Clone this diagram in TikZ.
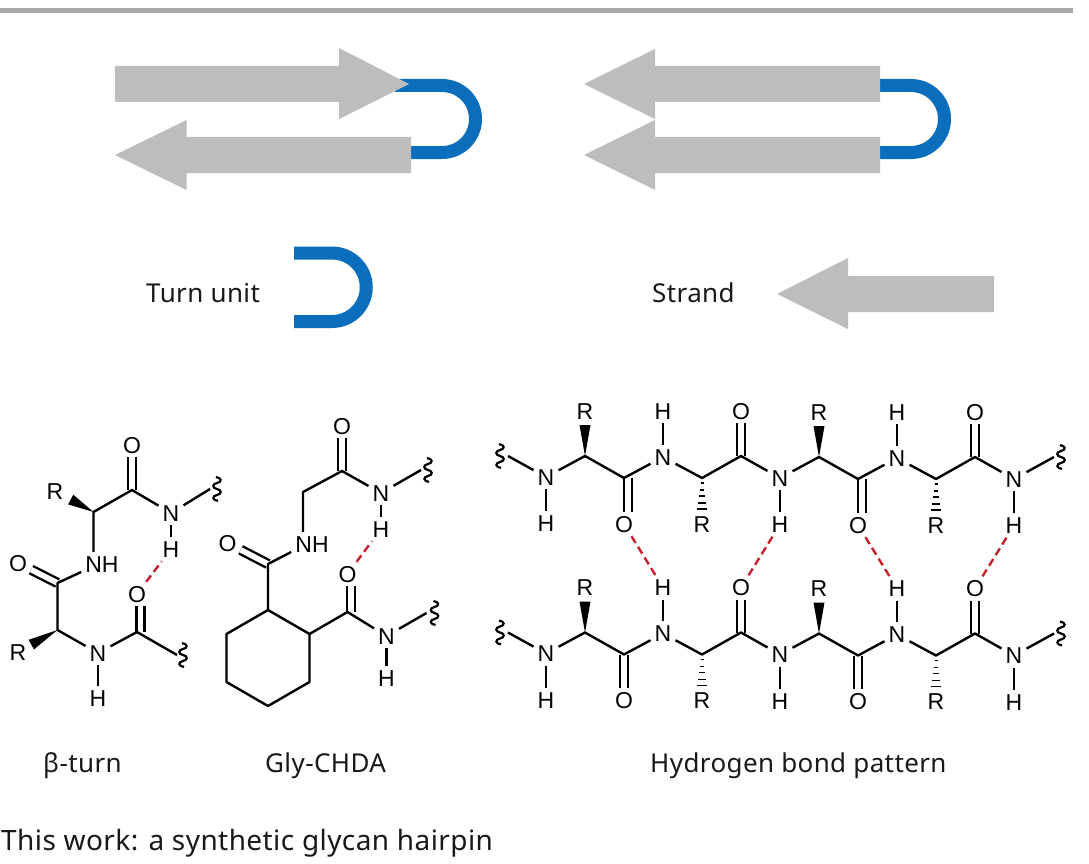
\documentclass[tikz,border=0pt]{standalone}
\usepackage{fontspec}
\setmainfont[LetterSpace=1.5]{Noto Sans}
\newfontfamily\atomfont{Liberation Sans}
\usetikzlibrary{positioning,calc}

\definecolor{strandgray}{HTML}{BDBDBD}
\definecolor{rulegray}{HTML}{A9A9A9}
\definecolor{turnblue}{HTML}{0A6EBD}
\definecolor{hbondred}{HTML}{C8202F}

\tikzset{
  atom/.style={anchor=center, font=\atomfont\fontsize{23}{23}\selectfont, inner sep=4pt, text height=16pt, text depth=0pt},
  bond/.style={draw, line width=2.4pt, line join=round},
  dbl/.style={draw, line width=2.4pt, double, double distance=5.6pt},
  hbond/.style={draw=hbondred, line width=2.4pt, dash pattern=on 8pt off 4.5pt},
  strand/.style={fill=strandgray},
  turn/.style={draw=turnblue, line width=13pt},
  caption/.style={font=\fontsize{26}{26}\selectfont, inner sep=0pt, anchor=base west, text=black!90},
  squig/.pic={\draw[line width=2.2pt] (-1,-12) .. controls (5,-11) and (5,-7) .. (0,-6) .. controls (-5,-5) and (-5,-1) .. (0,0) .. controls (5,1) and (5,5) .. (0,6) .. controls (-5,7) and (-5,11) .. (1,12);},
}

% filled wedge: tip, target, length
\newcommand{\wedgebond}[3]{
  \coordinate (wedgeend) at ($(#1)!#3!(#2)$);
  \fill (#1) -- ($(wedgeend)!5.5pt!90:(#1)$) -- ($(wedgeend)!5.5pt!-90:(#1)$) -- cycle;
}
% hashed bond pointing down
\newcommand{\hashbond}[1]{
  \foreach \d/\w in {5/1.5,12/2.2,18/3,25/4,31/5}{
    \draw[line width=1.8pt] ([xshift=-\w pt,yshift=-\d pt]#1) -- ([xshift=\w pt,yshift=-\d pt]#1);
  }
}

\begin{document}
\begin{tikzpicture}[x=1pt, y=-1pt, on grid]
  \useasboundingbox (0,0) rectangle (1089,864);
  \fill[rulegray] (0,8) rectangle (1073,12.6);

  % hairpins, turns below the strands
  \draw[turn] (395,85.5) -- (442,85.5) arc[start angle=-90, end angle=90, radius=33.5] -- (405,152.5);
  \draw[turn] (875,85.5) -- (911,85.5) arc[start angle=-90, end angle=90, radius=33.5] -- (875,152.5);
  \fill[strand] (115,66) -- (339,66) -- (339,48) -- (409,84) -- (339,119) -- (339,102) -- (115,102) -- cycle;
  \fill[strand] (115,155) -- (186.5,120) -- (186.5,137) -- (411,137) -- (411,173) -- (186.5,173) -- (186.5,190) -- cycle;
  \fill[strand] (584,84) -- (655,49) -- (655,66) -- (880,66) -- (880,102) -- (655,102) -- (655,119) -- cycle;
  \fill[strand] (584,155) -- (655,120) -- (655,137) -- (880,137) -- (880,173) -- (655,173) -- (655,190) -- cycle;

  % legend
  \node[caption] (turnlabel) at (146,302) {Turn unit};
  \draw[turn] (294,253) -- (332,253) arc[start angle=-90, end angle=90, radius=34.25] -- (294,321.5);
  \node[caption] (strandlabel) at (652,302) {Strand};
  \fill[strand] (777,294) -- (848,258) -- (848,276) -- (994,276) -- (994,312) -- (848,312) -- (848,329) -- cycle;

  % beta-turn
  \coordinate (ba1) at (93.5,512);
  \node[above left=21pt and 38.5pt of ba1, atom] (br1) {R};
  \coordinate[above right=22pt and 38.5pt of ba1] (bc1);
  \node[above=45pt of bc1, atom] (bo1) {O};
  \node[below right=23pt and 39pt of bc1, atom] (bn1) {N};
  \node[below=36pt of bn1, atom] (bh1) {H};
  \coordinate[above right=24pt and 39pt of bn1] (bq1);
  \node[below right=52pt and 8.5pt of ba1, atom] (bnh) {NH};
  \coordinate[below left=71pt and 36pt of ba1] (bc2);
  \node[above left=20pt and 39.5pt of bc2, atom] (bo2) {O};
  \coordinate[below=47pt of bc2] (ba2);
  \node[below left=22pt and 39.5pt of ba2, atom] (br2) {R};
  \node[below right=23pt and 40.5pt of ba2, atom] (bn2) {N};
  \node[below=45pt of bn2, atom] (bh2) {H};
  \coordinate[above right=21pt and 39pt of bn2] (bc3);
  \node[above=38pt of bc3, atom] (bo3) {O};
  \coordinate[below right=23pt and 40pt of bc3] (bq2);

  \path[dbl] (bc1) -- (bo1);
  \path[dbl] (bc2) -- (bo2);
  \path[dbl, transform canvas={xshift=3.5pt}] (bc3) -- (bo3);
  \path[bond] (ba1 |- bnh.north) -- (ba1) -- (bc1) -- (bn1) -- (bq1);
  \path[bond] (bn1) -- (bh1);
  \path[bond] ([yshift=-8pt]bnh.west) -- (bc2) -- (ba2) -- (bn2) -- (bc3) -- (bq2);
  \path[bond] (bn2) -- (bh2);
  \wedgebond{ba1}{br1}{26pt}
  \wedgebond{ba2}{br2}{30pt}
  \pic at ([xshift=7pt]bq1) {squig};
  \pic at ([xshift=6pt]bq2) {squig};
  \path[hbond] (bo3) -- (bh1);

  % Gly-CHDA
  \coordinate (ga1) at (303,492);
  \coordinate[above right=21pt and 39pt of ga1] (gc1);
  \node[above=45pt of gc1, atom] (go1) {O};
  \node[below right=22pt and 39pt of gc1, atom] (gn1) {N};
  \node[below=36pt of gn1, atom] (gh1) {H};
  \coordinate[above right=23pt and 40pt of gn1] (gq1);
  \node[below right=52pt and 9pt of ga1, atom] (gnh) {NH};
  \coordinate[below left=72pt and 35pt of ga1] (gc2);
  \node[above left=21pt and 40.5pt of gc2, atom] (go2) {O};
  \coordinate[below=46pt of gc2] (gr1);
  \coordinate[below right=24pt and 41.5pt of gr1] (gr2);
  \coordinate[below=48pt of gr2] (gr3);
  \coordinate[below left=24pt and 41.5pt of gr3] (gr4);
  \coordinate[above left=24pt and 41.5pt of gr4] (gr5);
  \coordinate[above=48pt of gr5] (gr6);
  \coordinate[above right=22pt and 38pt of gr2] (gc3);
  \node[above=38pt of gc3, atom] (go3) {O};
  \node[below right=24pt and 39pt of gc3, atom] (gn2) {N};
  \node[below=42pt of gn2, atom] (gh2) {H};
  \coordinate[above right=23pt and 40pt of gn2] (gq2);

  \path[dbl] (gc1) -- (go1);
  \path[dbl] (gc2) -- (go2);
  \path[dbl, transform canvas={xshift=3.5pt}] (gc3) -- (go3);
  \path[bond] (ga1 |- gnh.north) -- (ga1) -- (gc1) -- (gn1) -- (gq1);
  \path[bond] (gn1) -- (gh1);
  \path[bond] ([yshift=-8pt]gnh.west) -- (gc2) -- (gr1);
  \path[bond] (gr1) -- (gr2) -- (gr3) -- (gr4) -- (gr5) -- (gr6) -- cycle;
  \path[bond] (gr2) -- (gc3) -- (gn2) -- (gq2);
  \path[bond] (gn2) -- (gh2);
  \pic at ([xshift=7pt]gq1) {squig};
  \pic at ([xshift=8pt]gq2) {squig};
  \path[hbond] (go3) -- (gh1);

  % hydrogen bond pattern, upper and lower chain
  \foreach \row/\ypos/\oshift in {u/477/4pt, l/653.5/0pt}{
    \node[atom] (\row n1) at (546,\ypos) {N};
    \coordinate[above left=21pt and 38pt of \row n1] (\row q1);
    \foreach \i/\j in {1/2,2/3}{
      \node[below=46.5pt of \row n\i, atom] (\row h\i) {H};
      \coordinate[above right=21pt and 39pt of \row n\i] (\row a\i);
      \node[above=45pt of \row a\i, atom] (\row r\i) {R};
      \coordinate[below right=22pt and 39pt of \row a\i] (\row c\i);
      \node[below=46pt of \row c\i, atom] (\row o\i) {O};
      \node[above right=21pt and 39pt of \row c\i, atom] (\row m\i) {N};
      \node[above=46pt of \row m\i, atom] (\row p\i) {H};
      \coordinate[below right=21pt and 39pt of \row m\i] (\row b\i);
      \node[below=46pt of \row b\i, atom] (\row s\i) {R};
      \coordinate[above right=22pt and 39pt of \row b\i] (\row d\i);
      \node[above=45pt of \row d\i, atom] (\row e\i) {O};
      \node[below right=22pt and 39pt of \row d\i, atom] (\row n\j) {N};

      \path[dbl, transform canvas={xshift=\oshift}] (\row c\i) -- (\row o\i);
      \path[dbl] (\row d\i) -- (\row e\i);
      \path[bond] (\row n\i) -- (\row a\i) -- (\row c\i) -- (\row m\i) -- (\row b\i) -- (\row d\i) -- (\row n\j);
      \path[bond] (\row n\i) -- (\row h\i);
      \path[bond] (\row m\i) -- (\row p\i);
      \wedgebond{\row a\i}{\row r\i}{31pt}
      \hashbond{\row b\i}
    }
    \node[below=46.5pt of \row n3, atom] (\row h3) {H};
    \coordinate[above right=22pt and 40pt of \row n3] (\row q2);
    \path[bond] (\row q1) -- (\row n1);
    \path[bond] (\row n3) -- (\row q2);
    \path[bond] (\row n3) -- (\row h3);
    \pic at ([xshift=-8pt]\row q1) {squig};
    \pic at ([xshift=7pt]\row q2) {squig};
  }

  % hydrogen bonds between the chains
  \path[hbond] (uo1) -- (lp1);
  \path[hbond] (uh2) -- (le1);
  \path[hbond] (uo2) -- (lp2);
  \path[hbond] (uh3) -- (le2);

  % captions
  \node[caption] (betalabel) at (43,772) {β-turn};
  \node[caption] (glylabel) at (265,772) {Gly-CHDA};
  \node[caption] (patternlabel) at (650,772) {Hydrogen bond pattern};
  \node[caption, font=\fontsize{28}{28}\selectfont] (worklabel) at (1,850) {This work: a synthetic glycan hairpin};
\end{tikzpicture}
\end{document}
